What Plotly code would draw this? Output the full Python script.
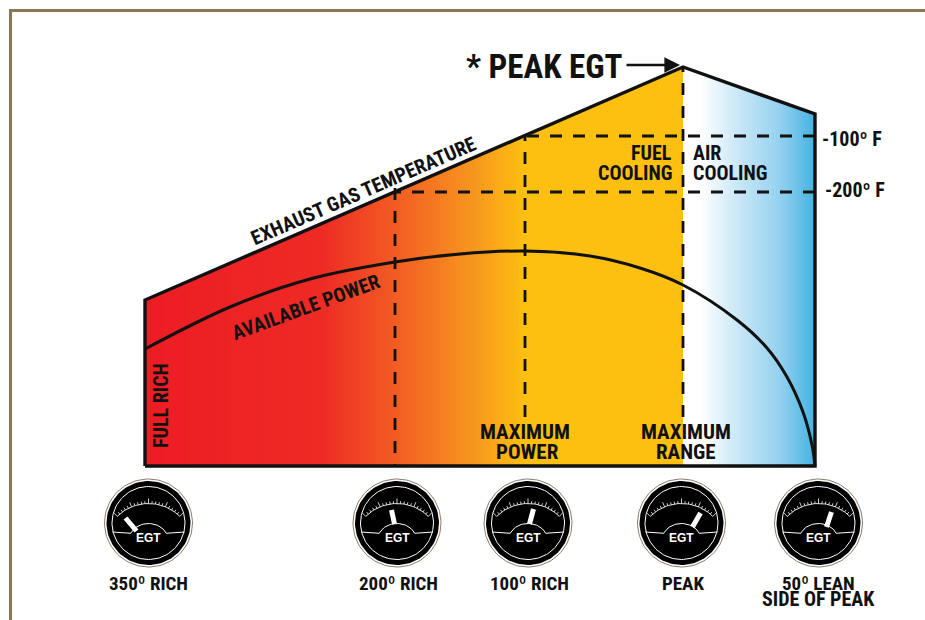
import numpy as np
import plotly.graph_objects as go

# Chart data, in the picture's own units
egt_x = [145, 145, 683, 815, 815, 145]
egt_y = [466, 300, 67, 114, 466, 466]
power_x = [145, 230, 310, 395, 460, 525, 590, 640, 683, 737, 767, 787, 803, 812, 815]
power_y = [349, 307, 279, 262, 254, 251, 256, 268, 285, 320, 348, 377, 412, 445, 466]
gradient_x = [145, 320, 395, 470, 525, 683, 683, 700, 740, 780, 815]
gradient_c = ["#ED1C24", "#EE2A25", "#F25C23", "#F7941E", "#FDC010", "#FDC010",
              "#FFFFFF", "#FFFFFF", "#C6E6F6", "#93D0EF", "#43B2E1"]
mixture_x = [395, 525, 683]
mixture_top = [188, 136, 67]
mixture_bottom = [466, 417, 417]
delta_y = [136, 192]
delta_start = [525, 395]
delta_labels = ["-100º F", "-200º F"]
gauge_x = [148.5, 397, 528, 681.5, 818.5]
gauge_y = [523, 523, 523, 523, 523]
needle_tip = [(-23, -5), (-5.5, -13), (5.5, -14), (19, -10), (13, -11)]
needle_base = [(-12, 8), (-2.5, 1), (1.5, 1), (11, 4), (8, 4)]
gauge_labels = ["350º RICH", "200º RICH", "100º RICH", "PEAK", "50º LEAN<br>SIDE OF PEAK"]
FONT = "Roboto Condensed"
BLACK = "#111111"

fig = go.Figure()
span = gradient_x[-1] - gradient_x[0]
fig.add_trace(go.Heatmap(
    x=[gradient_x[0], gradient_x[-1]], y=[60, 466],
    z=[[gradient_x[0], gradient_x[-1]], [gradient_x[0], gradient_x[-1]]],
    zmin=gradient_x[0], zmax=gradient_x[-1], zsmooth="best", showscale=False, hoverinfo="skip",
    colorscale=[[(x - gradient_x[0]) / span, c] for x, c in zip(gradient_x, gradient_c)]))
# white mask around the EGT outline
fig.add_trace(go.Scatter(x=[0, 925, 925, 0, 0, 145, 815, 815, 683, 145, 145, 0, 0],
                         y=[0, 0, 620, 620, 466, 466, 466, 114, 67, 300, 466, 466, 0],
                         mode="lines", fill="toself", fillcolor="white", line=dict(width=0), hoverinfo="skip"))
DASH = "12px,11px"
for x, a, b in zip(mixture_x, mixture_top, mixture_bottom):
    ys = [a, b] if x == mixture_x[0] else [b, a]
    fig.add_trace(go.Scatter(x=[x, x], y=ys, mode="lines", hoverinfo="skip",
                             line=dict(color=BLACK, width=2.8, dash=DASH)))
for y, x0 in zip(delta_y, delta_start):
    fig.add_trace(go.Scatter(x=[815, x0], y=[y, y], mode="lines", hoverinfo="skip",
                             line=dict(color=BLACK, width=2.8, dash=DASH)))
fig.add_trace(go.Scatter(x=egt_x, y=egt_y, mode="lines", hoverinfo="skip",
                         line=dict(color=BLACK, width=3.4, shape="linear")))
fig.add_trace(go.Scatter(x=power_x, y=power_y, mode="lines", hoverinfo="skip",
                         line=dict(color=BLACK, width=3, shape="spline", smoothing=1.0)))

annos = []
shapes = []


def text(x, y, s, size, angle=0, anchor="center", color=BLACK, family=FONT):
    annos.append(dict(x=x, y=y, xref="x", yref="y", text="<b>%s</b>" % s, showarrow=False,
                      xanchor=anchor, yanchor="middle", textangle=angle, align="center",
                      font=dict(family=family, size=size, color=color)))


text(544, 66, "* PEAK EGT", 33)
annos.append(dict(x=680, y=65, ax=625, ay=65, xref="x", yref="y", axref="x", ayref="y", text="",
                  showarrow=True, arrowhead=2, arrowsize=1.2, arrowwidth=2.6, arrowcolor=BLACK))
text(363, 191, "EXHAUST GAS TEMPERATURE", 20, angle=-23.4)
text(306, 307, "AVAILABLE POWER", 20, angle=-20)
text(161, 406, "FULL RICH", 20, angle=-90)
text(674, 153, "FUEL", 20, anchor="right")
text(674, 173, "COOLING", 20, anchor="right")
text(691, 153, "AIR", 20, anchor="left")
text(691, 173, "COOLING", 20, anchor="left")
text(525, 432, "MAXIMUM", 21)
text(527, 452, "POWER", 21)
text(686, 432, "MAXIMUM", 21)
text(686, 452, "RANGE", 21)
text(820, 139, delta_labels[0], 20, anchor="left")
text(823, 190, delta_labels[1], 20, anchor="left")

# gauges
th = np.linspace(0, 2 * np.pi, 121)


def disc(cx, cy, r, fill, line=None, w=0):
    fig.add_trace(go.Scatter(x=cx + r * np.cos(th), y=cy + r * np.sin(th), mode="lines", hoverinfo="skip",
                             fill="toself" if fill else None, fillcolor=fill,
                             line=dict(color=line or "rgba(0,0,0,0)", width=w)))


for i, (cx, cy) in enumerate(zip(gauge_x, gauge_y)):
    disc(cx, cy, 44, "white", "#8C7B6B", 1)
    disc(cx, cy, 42, "#000000")
    disc(cx, cy, 36.5, None, "white", 1)
    # horizon and dome
    a = np.linspace(-0.38 * np.pi, 0.38 * np.pi, 30)
    dome_x = cx + 19 * np.sin(a)
    dome_y = cy + 16 - 15.5 * np.cos(a)
    fig.add_trace(go.Scatter(x=[cx - 36] + list(dome_x) + [cx + 36], y=[cy + 9] + list(dome_y) + [cy + 9], mode="lines",
                             hoverinfo="skip", line=dict(color="white", width=1)))
    # scale
    R = 44.5
    a = np.linspace(-0.78, 0.78, 40)
    fig.add_trace(go.Scatter(x=cx + R * np.sin(a), y=cy + 25 - R * np.cos(a), mode="lines",
                             hoverinfo="skip", line=dict(color="white", width=0.9)))
    tx, ty = [], []
    for k, t in enumerate(np.linspace(-0.78, 0.78, 21)):
        L = 5 if k % 5 == 0 else 2.5
        tx += [cx + R * np.sin(t), cx + (R + L) * np.sin(t), None]
        ty += [cy + 25 - R * np.cos(t), cy + 25 - (R + L) * np.cos(t), None]
    fig.add_trace(go.Scatter(x=tx, y=ty, mode="lines", hoverinfo="skip", line=dict(color="white", width=0.8)))
    # needle
    fig.add_trace(go.Scatter(x=[cx + needle_base[i][0], cx + needle_tip[i][0]],
                             y=[cy + needle_base[i][1], cy + needle_tip[i][1]], mode="lines", hoverinfo="skip",
                             line=dict(color="white", width=5)))
    text(cx, cy + 15, "EGT", 12, color="white", family="Liberation Sans")
    if i < 4:
        text(cx + (1 if i else 0), 583, gauge_labels[i], 19)
    else:
        text(cx, 583, "50º LEAN", 19)
        text(cx, 599, "SIDE OF PEAK", 20)

# frame
shapes.append(dict(type="path", xref="x", yref="y", path="M 10.5 620 L 10.5 10.5 L 925 10.5",
                   line=dict(color="#8C7653", width=3)))

fig.update_layout(width=925, height=620, margin=dict(l=0, r=0, t=0, b=0), showlegend=False,
                  paper_bgcolor="white", plot_bgcolor="white", annotations=annos, shapes=shapes,
                  xaxis=dict(range=[0, 925], visible=False, fixedrange=True),
                  yaxis=dict(range=[620, 0], visible=False, fixedrange=True))
fig.write_html("out.html", config=dict(displayModeBar=False),
               post_script="document.body.style.margin='0';document.body.style.overflow='hidden';")
